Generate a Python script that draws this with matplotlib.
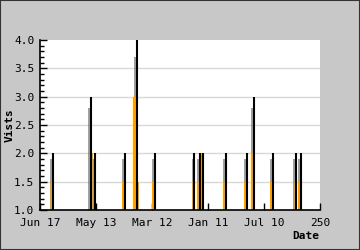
import matplotlib
matplotlib.use("Agg")
import matplotlib.pyplot as plt
import numpy as np
from matplotlib.ticker import MultipleLocator

# Data (day index 0..250, baseline 1)
visit_days = [11, 45, 48, 75, 86, 102, 137, 142, 145, 165, 184, 190, 207, 228, 232]
visit_vals = [2, 3, 2, 2, 4, 2, 2, 2, 2, 2, 2, 3, 2, 2, 2]
unique_days = [11, 46, 47, 75, 85, 87, 88, 102, 137, 138, 142, 145, 146, 165, 184, 190, 207, 228, 232]
unique_vals = [1.5, 2.5, 2.0, 1.5, 3.0, 2.0, 1.5, 1.5, 1.5, 1.5, 1.5, 2.0, 1.5, 1.5, 1.5, 2.0, 1.5, 1.5, 1.5]
x_ticks = [0, 50, 100, 150, 200, 250]
x_labels = ["Jun 17", "May 13", "Mar 12", "Jan 11", "Jul 10", "250"]
y_ticks = [1.0, 1.5, 2.0, 2.5, 3.0, 3.5, 4.0]

mono = "DejaVu Sans Mono"
fig = plt.figure(figsize=(3.6, 2.5), dpi=100, facecolor="#c8c8c8")
ax = fig.add_axes([40/360, 1-210/250, 280/360, 170/250])
ax.set_facecolor("white")

for y in y_ticks[1:-1]:
    ax.axhline(y, color="#d8d8d8", lw=1, zorder=0)

vd = np.array(visit_days, dtype=float)
vv = np.array(visit_vals, dtype=float)
ud = np.array(unique_days, dtype=float)
uv = np.array(unique_vals, dtype=float)

# gray gradient-like shadow on the left of each visit spike
ax.bar(vd - 0.8, (vv - 1) * 0.9, bottom=1, width=1.8, color="#555555",
       alpha=0.55, lw=0, zorder=1)
# orange (unique) bars
ax.bar(ud - 0.6, uv - 1, bottom=1, width=2.0, color="#ffa000", lw=0, zorder=2)
# black spikes
ax.vlines(vd + 0.9, 1, vv, color="black", lw=1.5, zorder=3)

ax.set_xlim(0, 250)
ax.set_ylim(1.0, 4.0)
ax.set_xticks(x_ticks)
ax.set_xticklabels(x_labels, fontfamily=mono, fontsize=8)
ax.set_yticks(y_ticks)
ax.set_yticklabels([f"{v:.1f}" for v in y_ticks], fontfamily=mono, fontsize=8)
ax.yaxis.set_minor_locator(MultipleLocator(0.1))
ax.tick_params(axis="y", which="major", direction="in", length=5, width=1, pad=4)
ax.tick_params(axis="y", which="minor", direction="in", length=3, width=1)
ax.tick_params(axis="x", which="major", direction="in", length=5, width=1, pad=6)

for s in ["top", "right"]:
    ax.spines[s].set_visible(False)
ax.spines["left"].set_linewidth(1.2)
ax.spines["bottom"].set_linewidth(1.2)

ax.set_ylabel("Vists", fontfamily=mono, fontsize=8, fontweight="bold", labelpad=0)
fig.text(319/360, 1-236/250, "Date", fontfamily=mono, fontsize=8, fontweight="bold",
         ha="right", va="center")

# outer border
fig.patches.append(plt.Rectangle((0, 0), 1, 1, transform=fig.transFigure,
                                 fill=False, edgecolor="#333333", lw=1.5))

fig.savefig("out.png", dpi=100, facecolor=fig.get_facecolor())
